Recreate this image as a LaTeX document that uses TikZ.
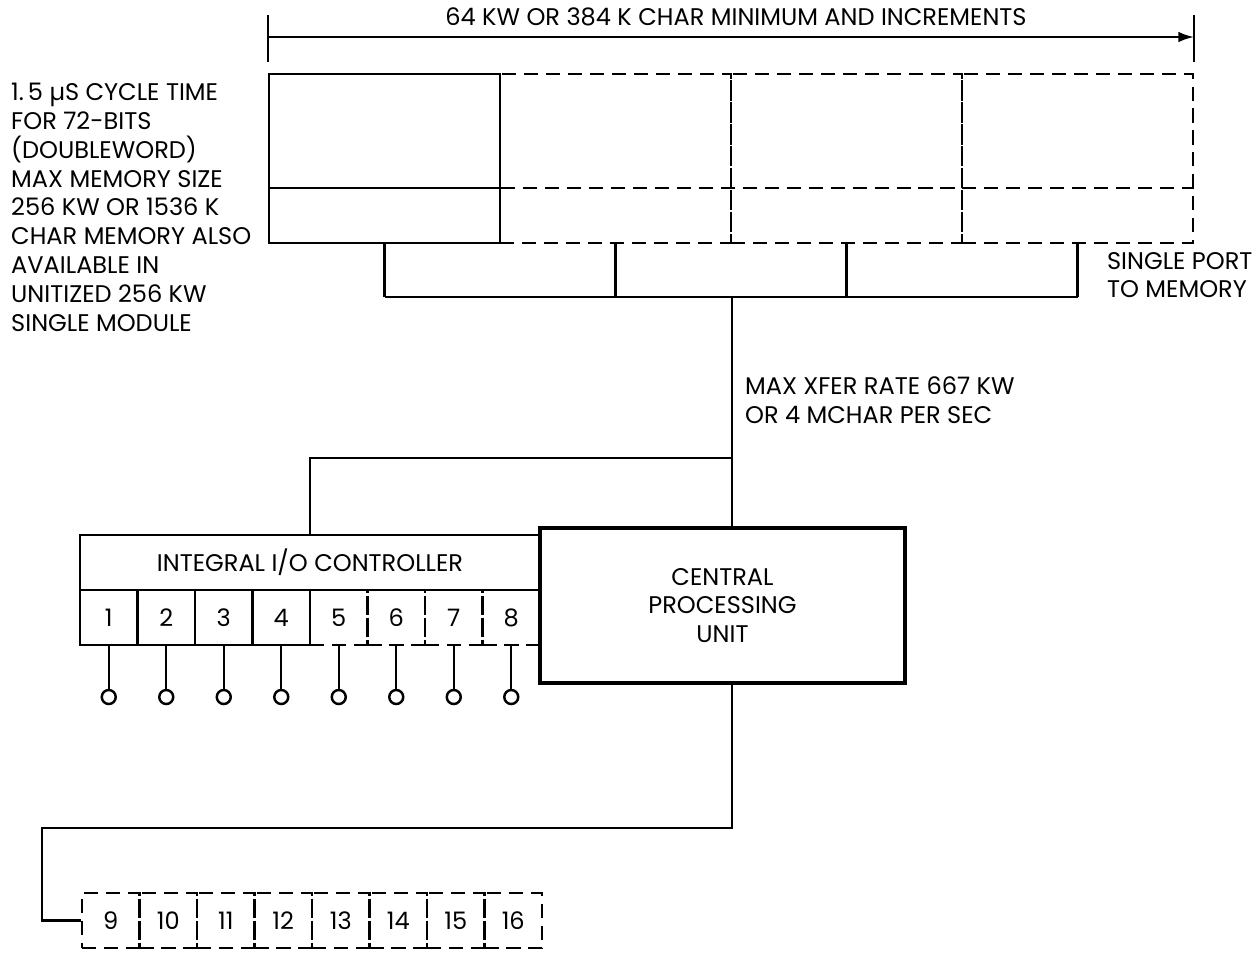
\documentclass[tikz,border=0pt]{standalone}
\usepackage{fontspec}
\setmainfont{Poppins}
\usepackage{tikz}
\usetikzlibrary{positioning, arrows.meta}

\begin{document}
\begin{tikzpicture}[x=0.02cm, y=-0.02cm, line width=1.4pt,
  font=\fontsize{13.7}{16.4}\selectfont,
  gap/.style={dash pattern=on 8pt off 4.5pt},
  module/.style={draw, minimum width=4.62cm, minimum height=3.38cm, inner sep=0pt},
  port/.style={draw, minimum width=1.15cm, minimum height=1.1cm, inner sep=0pt},
  term/.style={draw, circle, minimum size=0.28cm, inner sep=0pt}]
\useasboundingbox (0,0) rectangle (1255,954);
% memory: basic module plus three add-on modules
\node[module] (m1) at (384.5,158.5) {};
\foreach \i/\x in {2/615.5, 3/846.5, 4/1077.5}
  \node[module, gap] (m\i) at (\x,158.5) {};
\draw (m1.west |- 0,188) -- (m1.east |- 0,188);
\draw[gap] (m1.east |- 0,188) -- (m4.east |- 0,188);
% span of the memory
\draw (m1.west |- 0,15) -- (m1.west |- 0,62);
\draw (m4.east |- 0,15) -- (m4.east |- 0,62);
\draw[-{Latex[length=9pt,width=6pt]}] (m1.west |- 0,37) -- (m4.east |- 0,37);
\node (span) at (736,17) {64 KW OR 384 K CHAR MINIMUM AND INCREMENTS};
\node[align=left, anchor=north west, inner sep=0pt] (note) at (10,82)
  {1.\,5 µS CYCLE TIME\\FOR 72-BITS\\(DOUBLEWORD)\\MAX MEMORY SIZE\\256 KW OR 1536 K\\CHAR MEMORY ALSO\\AVAILABLE IN\\UNITIZED 256 KW\\SINGLE MODULE};
% memory bus
\coordinate (bus) at (0,297);
\foreach \i in {1,...,4}
  \draw (m\i.south) -- (m\i.south |- bus);
\draw (m1.south |- bus) -- (m4.south |- bus);
\node[align=left, anchor=west] (port) at (1100,275) {SINGLE PORT\\TO MEMORY};
% processor and i/o controller
\node[draw, line width=2.6pt, minimum width=7.3cm, minimum height=3.1cm, align=center] (cpu) at (722.5,605.5) {CENTRAL\\PROCESSING\\UNIT};
\node[draw, minimum width=9.2cm, minimum height=1.1cm] (io) at (310,562.5) {INTEGRAL I/O CONTROLLER};
\foreach \k in {1,...,4}
  \node[port] (p\k) at ({108.75+57.5*(\k-1)},617.5) {\k};
\foreach \k in {5,...,8}
  \node[port, gap] (p\k) at ({108.75+57.5*(\k-1)},617.5) {\k};
\foreach \k in {1,...,8} {
  \node[term] (t\k) at (p\k |- 0,697) {};
  \draw (p\k) -- (t\k);
}
\draw (m2.east |- bus) -- (cpu.north -| m2.east);
\draw (m2.east |- 0,458) -| (io.north);
\node[align=left, anchor=north west] (rate) at (738,370) {MAX XFER RATE 667 KW\\OR 4 MCHAR PER SEC};
% extra channels
\foreach \k in {9,...,16}
  \node[port, gap] (p\k) at ({110.75+57.5*(\k-9)},920.5) {\k};
\coordinate (bend) at (42,828);
\draw (cpu.south -| m2.east) |- (bend) |- (p9.west);
\end{tikzpicture}
\end{document}
